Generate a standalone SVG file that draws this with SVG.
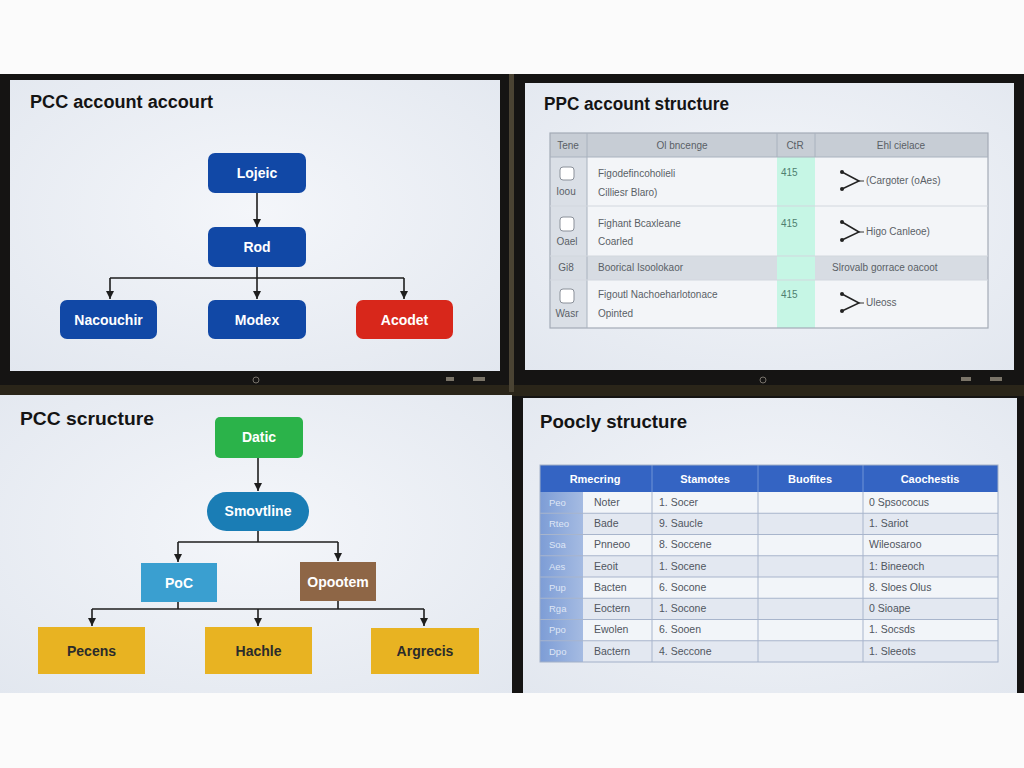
<svg xmlns="http://www.w3.org/2000/svg" width="1024" height="768" viewBox="0 0 1024 768">
<defs>
<radialGradient id="scr" cx="0.5" cy="0.45" r="0.75">
<stop offset="0" stop-color="#f4f6fa"/>
<stop offset="1" stop-color="#e2e7ef"/>
</radialGradient>
<linearGradient id="idx" x1="0" y1="0" x2="1" y2="0">
<stop offset="0" stop-color="#7d9dd6"/>
<stop offset="1" stop-color="#a5bbe2"/>
</linearGradient>
<marker id="ah" viewBox="0 0 8 8" refX="8" refY="4" markerWidth="8" markerHeight="8" markerUnits="userSpaceOnUse" orient="auto">
<path d="M0,0 L8,4 L0,8 z" fill="#1e1e1e"/>
</marker>
<marker id="dot" viewBox="0 0 4 4" refX="2" refY="2" markerWidth="4" markerHeight="4" markerUnits="userSpaceOnUse">
<circle cx="2" cy="2" r="2" fill="#222"/>
</marker>
</defs>
<style>
.title{font-family:"Liberation Sans",Arial,sans-serif;font-weight:bold;font-size:18px;fill:#141414}
.nl{font-family:"Liberation Sans",Arial,sans-serif;font-weight:bold;font-size:14px;fill:#ffffff;text-anchor:middle}
.nd{font-family:"Liberation Sans",Arial,sans-serif;font-weight:bold;font-size:14px;fill:#2b2b2b;text-anchor:middle}
.conn{stroke:#1e1e1e;stroke-width:1.6;fill:none}
.t{font-family:"Liberation Sans",Arial,sans-serif;font-size:10px;fill:#5a5f66}
.tc{font-family:"Liberation Sans",Arial,sans-serif;font-size:10px;fill:#5a5f66;text-anchor:middle}
.grn{font-family:"Liberation Sans",Arial,sans-serif;font-size:10px;fill:#4f7f70}
.hw{font-family:"Liberation Sans",Arial,sans-serif;font-weight:bold;font-size:11px;fill:#ffffff;text-anchor:middle}
.bt{font-family:"Liberation Sans",Arial,sans-serif;font-size:10.5px;fill:#50565f}
.bi{font-family:"Liberation Sans",Arial,sans-serif;font-size:9.5px;fill:#dfe6f5}
.gl{stroke:#a9b2be;stroke-width:1}
.bl{stroke:#a8b5cc;stroke-width:1}
.cb{fill:#ffffff;stroke:#8a9099;stroke-width:1}
.chev{stroke:#222;stroke-width:1.5;fill:none;marker-start:url(#dot);marker-end:url(#dot)}
.mark{fill:#7a7468}
</style>

<!-- room / bezels -->
<rect x="0" y="0" width="1024" height="768" fill="#fbfbfb"/>
<rect x="0" y="74" width="1024" height="324" fill="#151413"/>
<rect x="0" y="385" width="1024" height="11" fill="#2a2519"/>
<rect x="509" y="74" width="5" height="318" fill="#4a4333"/>
<rect x="512" y="396" width="12" height="297" fill="#151413"/>
<rect x="1016" y="396" width="8" height="297" fill="#151413"/>

<!-- screens -->
<rect x="10" y="80" width="490" height="291" fill="url(#scr)"/>
<rect x="525" y="83" width="489" height="287" fill="url(#scr)"/>
<rect x="0" y="395" width="512" height="298" fill="url(#scr)"/>
<rect x="523" y="398" width="494" height="295" fill="url(#scr)"/>

<!-- bezel marks -->
<circle cx="256" cy="380" r="3" fill="none" stroke="#77726a" stroke-width="1"/>
<rect x="446" y="377" width="8" height="4" class="mark"/>
<rect x="473" y="377" width="12" height="4" class="mark"/>
<circle cx="763" cy="380" r="3" fill="none" stroke="#77726a" stroke-width="1"/>
<rect x="961" y="377" width="10" height="4" class="mark"/>
<rect x="990" y="377" width="12" height="4" class="mark"/>

<!-- ===== Top-left panel ===== -->
<text class="title" x="30" y="108" textLength="183" lengthAdjust="spacingAndGlyphs">PCC account accourt</text>

<g id="connectors">
<path class="conn" d="M257 193 V227" marker-end="url(#ah)"/>
<path class="conn" d="M257 267 V299" marker-end="url(#ah)"/>
<path class="conn" d="M110 278 H404"/>
<path class="conn" d="M110 278 V299" marker-end="url(#ah)"/>
<path class="conn" d="M404 278 V299" marker-end="url(#ah)"/>

<path class="conn" d="M258 458 V491" marker-end="url(#ah)"/>
<path class="conn" d="M258 531 V542"/>
<path class="conn" d="M178 542 H338"/>
<path class="conn" d="M178 542 V562" marker-end="url(#ah)"/>
<path class="conn" d="M338 542 V561" marker-end="url(#ah)"/>
<path class="conn" d="M178 602 V609"/>
<path class="conn" d="M338 601 V609"/>
<path class="conn" d="M92 609 H424"/>
<path class="conn" d="M92 609 V626" marker-end="url(#ah)"/>
<path class="conn" d="M258 609 V626" marker-end="url(#ah)"/>
<path class="conn" d="M424 609 V626" marker-end="url(#ah)"/>
</g>

<g id="n-lojeic"><rect x="208" y="153" width="98" height="40" rx="7" fill="#1148a6"/><text class="nl" x="257" y="178">Lojeic</text></g>
<g id="n-rod"><rect x="208" y="227" width="98" height="40" rx="7" fill="#1148a6"/><text class="nl" x="257" y="252">Rod</text></g>
<g id="n-nacouchir"><rect x="60" y="300" width="97" height="39" rx="7" fill="#1148a6"/><text class="nl" x="108.5" y="325">Nacouchir</text></g>
<g id="n-modex"><rect x="208" y="300" width="98" height="39" rx="7" fill="#1148a6"/><text class="nl" x="257" y="325">Modex</text></g>
<g id="n-acodet"><rect x="356" y="300" width="97" height="39" rx="7" fill="#d8271b"/><text class="nl" x="404.5" y="325">Acodet</text></g>

<!-- ===== Top-right panel ===== -->
<text class="title" x="544" y="110" textLength="185" lengthAdjust="spacingAndGlyphs">PPC account structure</text>
<g id="table-ppc">
<rect x="550" y="133" width="438" height="195" fill="#f3f5f8"/>
<rect x="550" y="133" width="438" height="24" fill="#c7cdd5"/>
<rect x="550" y="157" width="37" height="171" fill="#dadfe6"/>
<rect x="550" y="256" width="438" height="24" fill="#d7dce3"/>
<rect x="777" y="157" width="38" height="171" fill="#c6f6e5"/>
<rect x="550" y="133" width="438" height="195" fill="none" stroke="#a3abb6" stroke-width="1.2"/>
<line class="gl" x1="587" y1="133" x2="587" y2="328"/>
<line class="gl" x1="777" y1="133" x2="777" y2="157"/>
<line class="gl" x1="815" y1="133" x2="815" y2="157"/>
<line class="gl" x1="550" y1="157" x2="988" y2="157"/>
<line x1="550" y1="206" x2="988" y2="206" stroke="#d2d7de"/>
<line x1="550" y1="256" x2="988" y2="256" stroke="#d2d7de"/>
<line x1="550" y1="280" x2="988" y2="280" stroke="#d2d7de"/>

<text class="tc" x="568" y="149">Tene</text>
<text class="tc" x="682" y="149">Ol bncenge</text>
<text class="tc" x="795" y="149">CtR</text>
<text class="tc" x="901" y="149">Ehl cielace</text>

<rect class="cb" x="560" y="167" width="14" height="13" rx="3"/>
<text class="tc" x="566" y="195">Ioou</text>
<text class="t" x="598" y="177">Figodefincoholieli</text>
<text class="t" x="598" y="196">Cilliesr Blaro)</text>
<text class="grn" x="781" y="176">415</text>
<path class="chev" d="M842 172 L859 181 L842 189"/>
<line x1="859" y1="181" x2="864" y2="181" stroke="#333" stroke-width="1"/>
<text class="t" x="866" y="184">(Cargoter (oAes)</text>

<rect class="cb" x="560" y="217" width="14" height="14" rx="3"/>
<text class="tc" x="567" y="245">Oael</text>
<text class="t" x="598" y="227">Fighant Bcaxleane</text>
<text class="t" x="598" y="245">Coarled</text>
<text class="grn" x="781" y="227">415</text>
<path class="chev" d="M842 222 L859 232 L842 240"/>
<line x1="859" y1="232" x2="864" y2="232" stroke="#333" stroke-width="1"/>
<text class="t" x="866" y="235">Higo Canleoe)</text>

<text class="tc" x="566" y="271">Gi8</text>
<text class="t" x="598" y="271">Boorical Isoolokaor</text>
<text class="t" x="832" y="271">Slrovalb gorrace oacoot</text>

<rect class="cb" x="560" y="289" width="14" height="14" rx="3"/>
<text class="tc" x="567" y="317">Wasr</text>
<text class="t" x="598" y="298">Figoutl Nachoeharlotonace</text>
<text class="t" x="598" y="317">Opinted</text>
<text class="grn" x="781" y="298">415</text>
<path class="chev" d="M842 294 L859 303 L842 311"/>
<line x1="859" y1="303" x2="864" y2="303" stroke="#333" stroke-width="1"/>
<text class="t" x="866" y="306">Uleoss</text>
</g>

<!-- ===== Bottom-left panel ===== -->
<text class="title" x="20" y="425" textLength="134" lengthAdjust="spacingAndGlyphs">PCC scructure</text>

<g id="n-datic"><rect x="215" y="417" width="88" height="41" rx="5" fill="#2bb34a"/><text class="nl" x="259" y="442">Datic</text></g>
<g id="n-smovtline"><rect x="207" y="492" width="102" height="39" rx="19.5" fill="#1a7db5"/><text class="nl" x="258" y="516">Smovtline</text></g>
<g id="n-poc"><rect x="141" y="563" width="76" height="39" fill="#3a9fd0"/><text class="nl" x="179" y="588">PoC</text></g>
<g id="n-opootem"><rect x="300" y="562" width="76" height="39" fill="#8e6646"/><text class="nl" x="338" y="587">Opootem</text></g>
<g id="n-pecens"><rect x="38" y="627" width="107" height="47" fill="#e8b322"/><text class="nd" x="91.5" y="656">Pecens</text></g>
<g id="n-hachle"><rect x="205" y="627" width="107" height="47" fill="#e8b322"/><text class="nd" x="258.5" y="656">Hachle</text></g>
<g id="n-argrecis"><rect x="371" y="628" width="108" height="46" fill="#e8b322"/><text class="nd" x="425" y="656">Argrecis</text></g>

<!-- ===== Bottom-right panel ===== -->
<text class="title" x="540" y="428" textLength="147" lengthAdjust="spacingAndGlyphs">Poocly structure</text>
<g id="table-poocly">
<rect x="540" y="492" width="458" height="170" fill="#f2f5f9"/>
<rect x="583" y="513.25" width="415" height="21.25" fill="#e3e8f1"/>
<rect x="583" y="555.75" width="415" height="21.25" fill="#e3e8f1"/>
<rect x="583" y="598.25" width="415" height="21.25" fill="#e3e8f1"/>
<rect x="583" y="640.75" width="415" height="21.25" fill="#e3e8f1"/>
<rect x="540" y="492" width="43" height="170" fill="url(#idx)"/>
<rect x="540" y="465" width="458" height="27" fill="#3464c3"/>
<line x1="652" y1="465" x2="652" y2="492" stroke="#6f93d6"/>
<line x1="758" y1="465" x2="758" y2="492" stroke="#6f93d6"/>
<line x1="863" y1="465" x2="863" y2="492" stroke="#6f93d6"/>
<line class="bl" x1="652" y1="492" x2="652" y2="662"/>
<line class="bl" x1="758" y1="492" x2="758" y2="662"/>
<line class="bl" x1="863" y1="492" x2="863" y2="662"/>
<line class="bl" x1="540" y1="513.25" x2="998" y2="513.25"/>
<line class="bl" x1="540" y1="534.5" x2="998" y2="534.5"/>
<line class="bl" x1="540" y1="555.75" x2="998" y2="555.75"/>
<line class="bl" x1="540" y1="577" x2="998" y2="577"/>
<line class="bl" x1="540" y1="598.25" x2="998" y2="598.25"/>
<line class="bl" x1="540" y1="619.5" x2="998" y2="619.5"/>
<line class="bl" x1="540" y1="640.75" x2="998" y2="640.75"/>
<rect x="540" y="465" width="458" height="197" fill="none" stroke="#a2b0c8" stroke-width="1"/>

<text class="hw" x="595" y="483">Rmecring</text>
<text class="hw" x="705" y="483">Stamotes</text>
<text class="hw" x="810" y="483">Buofites</text>
<text class="hw" x="930" y="483">Caochestis</text>

<text class="bi" x="549" y="506">Peo</text>
<text class="bi" x="549" y="527">Rteo</text>
<text class="bi" x="549" y="548">Soa</text>
<text class="bi" x="549" y="570">Aes</text>
<text class="bi" x="549" y="591">Pup</text>
<text class="bi" x="549" y="612">Rga</text>
<text class="bi" x="549" y="633">Ppo</text>
<text class="bi" x="549" y="655">Dpo</text>

<text class="bt" x="594" y="506">Noter</text>
<text class="bt" x="594" y="527">Bade</text>
<text class="bt" x="594" y="548">Pnneoo</text>
<text class="bt" x="594" y="570">Eeoit</text>
<text class="bt" x="594" y="591">Bacten</text>
<text class="bt" x="594" y="612">Eoctern</text>
<text class="bt" x="594" y="633">Ewolen</text>
<text class="bt" x="594" y="655">Bactern</text>

<text class="bt" x="659" y="506">1. Socer</text>
<text class="bt" x="659" y="527">9. Saucle</text>
<text class="bt" x="659" y="548">8. Soccene</text>
<text class="bt" x="659" y="570">1. Socene</text>
<text class="bt" x="659" y="591">6. Socone</text>
<text class="bt" x="659" y="612">1. Socone</text>
<text class="bt" x="659" y="633">6. Sooen</text>
<text class="bt" x="659" y="655">4. Seccone</text>

<text class="bt" x="869" y="506">0 Spsococus</text>
<text class="bt" x="869" y="527">1. Sariot</text>
<text class="bt" x="869" y="548">Wileosaroo</text>
<text class="bt" x="869" y="570">1: Bineeoch</text>
<text class="bt" x="869" y="591">8. Sloes Olus</text>
<text class="bt" x="869" y="612">0 Sioape</text>
<text class="bt" x="869" y="633">1. Socsds</text>
<text class="bt" x="869" y="655">1. Sleeots</text>
</g>
</svg>
